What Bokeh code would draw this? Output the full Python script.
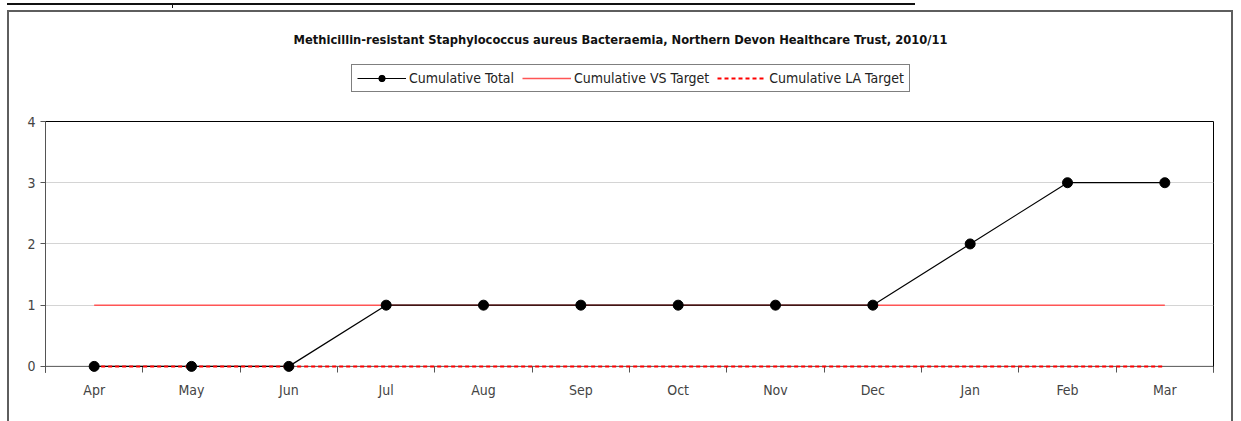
from bokeh.plotting import figure
from bokeh.layouts import column
from bokeh.models import (Range1d, LinearAxis, FixedTicker, Grid, Legend, LegendItem, Label, Span)
from bokeh.embed import file_html
from bokeh.resources import INLINE

months = ["Apr", "May", "Jun", "Jul", "Aug", "Sep", "Oct", "Nov", "Dec", "Jan", "Feb", "Mar"]
cumulative_total = [0, 0, 0, 1, 1, 1, 1, 1, 1, 2, 3, 3]
cumulative_vs_target = [1, 1, 1, 1, 1, 1, 1, 1, 1, 1, 1, 1]
cumulative_la_target = [0, 0, 0, 0, 0, 0, 0, 0, 0, 0, 0, 0]
y_ticks = [0, 1, 2, 3, 4]
series_names = ["Cumulative Total", "Cumulative VS Target", "Cumulative LA Target"]
title_text = "Methicillin-resistant Staphylococcus aureus Bacteraemia, Northern Devon Healthcare Trust, 2010/11"

FONT = "'Liberation Sans Narrow', 'Arial Narrow', 'DejaVu Sans Condensed', sans-serif"
TOTAL_COLOR, VS_COLOR, LA_COLOR = "black", "#ff5555", "#ff0000"

W = 1236
TOP_H = 100

x = list(range(len(months)))
bounds = [i - 0.5 for i in range(len(months) + 1)]

# ---------- header: title + legend (frame aligned with main chart frame) ----------
top = figure(width=W, height=TOP_H, x_range=Range1d(100, 101), y_range=Range1d(100, 101),
             output_backend="svg", toolbar_location=None, x_axis_type=None, y_axis_type=None,
             title=None, min_border=0, min_border_left=45, min_border_right=23,
             min_border_top=0, min_border_bottom=0)
top.outline_line_color = None
top.border_fill_color = None
top.background_fill_color = None
top.grid.visible = False

# legend proxies (out of view of the header's ranges)
d_tl = top.line(x, cumulative_total, line_color=TOTAL_COLOR, line_width=1.2)
d_ts = top.scatter(x, cumulative_total, size=10, fill_color=TOTAL_COLOR, line_color=TOTAL_COLOR)
d_vs = top.line(x, cumulative_vs_target, line_color=VS_COLOR, line_width=1.5)
d_la = top.line(x, cumulative_la_target, line_color=LA_COLOR, line_width=2, line_dash="4 3")

legend = Legend(items=[
    LegendItem(label=series_names[0], renderers=[d_tl, d_ts]),
    LegendItem(label=series_names[1], renderers=[d_vs]),
    LegendItem(label=series_names[2], renderers=[d_la]),
], orientation="horizontal", location=(306, 8))
legend.border_line_color = "black"
legend.border_line_width = 1
legend.background_fill_color = "white"
legend.padding = 5
legend.spacing = 8
legend.margin = 0
legend.glyph_width = 49
legend.glyph_height = 16
legend.label_height = 16
legend.label_standoff = 3
legend.label_text_font = FONT
legend.label_text_font_size = "14px"
legend.label_text_color = "#222222"
top.add_layout(legend, "center")

top.add_layout(Label(x=575, y=TOP_H - 38.5, x_units="screen", y_units="screen", text=title_text,
                     text_align="center", text_baseline="middle", text_font=FONT,
                     text_font_size="12.8px", text_font_style="bold", text_color="#111111"))

# ---------- main chart ----------
p = figure(width=W, height=421 - TOP_H, x_range=Range1d(-0.5, len(months) - 0.5),
           y_range=Range1d(-0.1, 4), output_backend="svg", toolbar_location=None,
           x_axis_type=None, y_axis_type=None, title=None,
           min_border_left=45, min_border_right=23, min_border_top=121 - TOP_H, min_border_bottom=49)
p.outline_line_color = "black"
p.outline_line_width = 1
p.border_fill_color = None
p.background_fill_color = "white"

p.add_layout(Grid(dimension=1, ticker=FixedTicker(ticks=[1, 2, 3]),
                  grid_line_color="#d4d4d4", grid_line_width=1))
p.add_layout(Span(location=0, dimension="width", line_color="#555555", line_width=1))

yax = LinearAxis(ticker=FixedTicker(ticks=y_ticks, minor_ticks=[]))
yax.axis_line_color = "#555555"
yax.major_tick_line_color = "#555555"
yax.major_tick_out = 5
yax.major_tick_in = 0
yax.minor_tick_line_color = None
yax.major_label_text_font = FONT
yax.major_label_text_font_size = "14px"
yax.major_label_text_color = "#444444"
yax.major_label_standoff = 5
p.add_layout(yax, "left")

xax = LinearAxis(ticker=FixedTicker(ticks=x, minor_ticks=bounds))
xax.major_label_overrides = {i: m for i, m in enumerate(months)}
xax.axis_line_color = "white"
xax.axis_line_width = 2
xax.major_tick_line_color = None
xax.major_tick_out = 0
xax.major_tick_in = 0
xax.minor_tick_line_color = "#555555"
xax.minor_tick_out = 0
xax.minor_tick_in = 6
xax.major_label_text_font = FONT
xax.major_label_text_font_size = "14px"
xax.major_label_text_color = "#444444"
xax.major_label_standoff = 9
p.add_layout(xax, "below")

p.line(x, cumulative_vs_target, line_color=VS_COLOR, line_width=1.5)
p.line(x, cumulative_total, line_color=TOTAL_COLOR, line_width=1.2, level="overlay")
p.line(x, cumulative_la_target, line_color=LA_COLOR, line_width=2, line_dash="4 3", level="overlay")
p.scatter(x, cumulative_total, size=10, fill_color=TOTAL_COLOR, line_color=TOTAL_COLOR, level="overlay")

layout = column(top, p, spacing=0)
layout.styles = {
    "background-image": ("linear-gradient(#5e5e5e,#5e5e5e), linear-gradient(#5e5e5e,#5e5e5e), "
                         "linear-gradient(#5e5e5e,#5e5e5e), linear-gradient(#111,#111), "
                         "linear-gradient(#111,#111)"),
    "background-position": "7px 10px, 7px 10px, 1231px 10px, 7px 3px, 172px 3px",
    "background-size": "2px 420px, 1226px 2px, 2px 420px, 908px 2px, 1px 5px",
    "background-repeat": "no-repeat",
}

open("out.html", "w").write(file_html(layout, INLINE))
